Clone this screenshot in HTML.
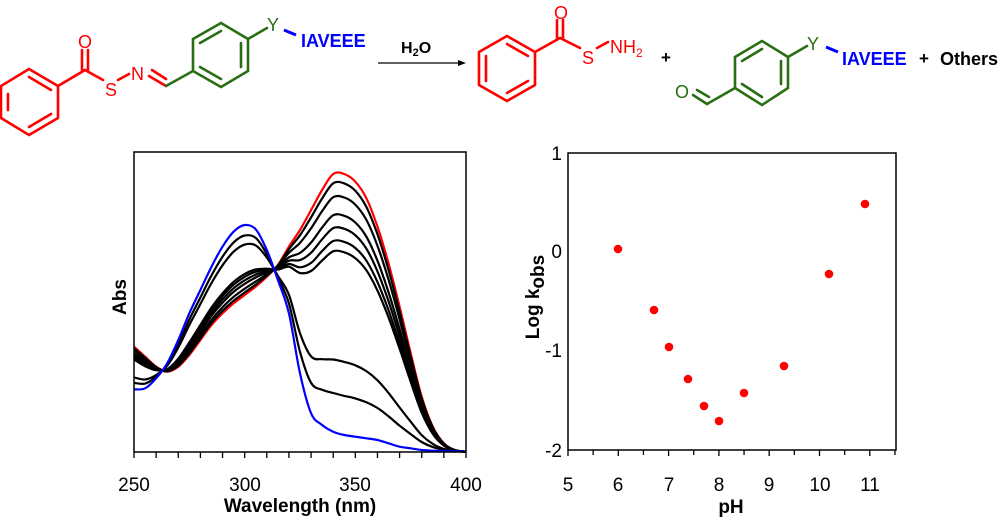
<!DOCTYPE html>
<html><head><meta charset="utf-8"><style>
html,body{margin:0;padding:0;background:#fff;}
svg{display:block;}
text{font-family:"Liberation Sans",sans-serif;}
</style></head><body>
<svg id="s" width="1000" height="518" viewBox="0 0 1000 518" xmlns="http://www.w3.org/2000/svg">
<g stroke="#f00" stroke-width="2.6" fill="none" stroke-linecap="round">
<polygon points="29,69 58,86 58,118 29,135 1,118 1,86"/>
<line x1="29" y1="77" x2="51" y2="90"/><line x1="51" y1="114" x2="29" y2="127"/><line x1="8" y1="94" x2="8" y2="110"/>
<line x1="58" y1="86" x2="85" y2="70"/>
<line x1="82" y1="70" x2="82" y2="50"/><line x1="88" y1="70" x2="88" y2="50"/>
<line x1="85" y1="70" x2="103" y2="80"/>
<line x1="118" y1="80" x2="129" y2="74"/>
<line x1="149" y1="76" x2="166" y2="86"/><line x1="152" y1="70" x2="166" y2="79"/>
</g>
<g fill="#f00" font-size="18"><text x="78" y="48">O</text><text x="105" y="96">S</text><text x="131" y="80">N</text></g>
<g stroke="#2a6e14" stroke-width="2.6" fill="none" stroke-linecap="round">
<line x1="166" y1="86" x2="193" y2="71"/>
<polygon points="193,39 221,23 248,39 248,71 221,87 193,71"/>
<line x1="200" y1="43" x2="221" y2="31"/><line x1="241" y1="43" x2="241" y2="67"/><line x1="200" y1="67" x2="221" y2="79"/>
<line x1="248" y1="39" x2="267" y2="28"/>
</g>
<text x="267" y="31" fill="#2a6e14" font-size="18">Y</text>
<line x1="284" y1="30" x2="296" y2="35" stroke="#00f" stroke-width="3"/>
<text x="301" y="47" fill="#00f" font-size="18" font-weight="bold">IAVEEE</text>
<line x1="378" y1="63" x2="460" y2="63" stroke="#000" stroke-width="1.2"/>
<polygon points="466,63 458,60 458,66" fill="#000"/>
<text x="401" y="53" font-size="16" font-weight="bold">H<tspan font-size="11" dy="3">2</tspan><tspan dy="-3">O</tspan></text>
<g stroke="#f00" stroke-width="2.6" fill="none" stroke-linecap="round">
<polygon points="507,36 535,52 535,85 507,101 479,85 479,52"/>
<line x1="486" y1="56" x2="486" y2="81"/><line x1="507" y1="44" x2="528" y2="56"/><line x1="507" y1="93" x2="528" y2="81"/>
<line x1="535" y1="52" x2="560" y2="38"/>
<line x1="557" y1="38" x2="557" y2="20"/><line x1="563" y1="38" x2="563" y2="20"/>
<line x1="560" y1="38" x2="580" y2="48"/>
<line x1="597" y1="48" x2="608" y2="42"/>
</g>
<g fill="#f00" font-size="18"><text x="554" y="19">O</text><text x="582" y="64">S</text><text x="610" y="53">NH<tspan font-size="12" dy="4">2</tspan></text></g>
<text x="661" y="63" font-size="17" font-weight="bold">+</text>
<g stroke="#2a6e14" stroke-width="2.6" fill="none" stroke-linecap="round">
<polygon points="735,57 762,41 788,57 788,88 762,105 735,88"/>
<line x1="742" y1="61" x2="762" y2="49"/><line x1="781" y1="61" x2="781" y2="84"/><line x1="742" y1="84" x2="762" y2="97"/>
<line x1="735" y1="88" x2="707" y2="104"/>
<line x1="707" y1="104" x2="693" y2="95"/><line x1="709" y1="97" x2="697" y2="90"/>
<line x1="788" y1="57" x2="807" y2="46"/>
</g>
<text x="675" y="98" fill="#2a6e14" font-size="18">O</text>
<text x="807" y="50" fill="#2a6e14" font-size="18">Y</text>
<line x1="826" y1="47" x2="838" y2="52" stroke="#00f" stroke-width="3"/>
<text x="842" y="65" fill="#00f" font-size="18" font-weight="bold">IAVEEE</text>
<text x="919" y="64" font-size="17" font-weight="bold">+</text>
<text x="940" y="65" font-size="18" font-weight="bold">Others</text>

<g id="curves" fill="none" stroke-width="2.2" stroke-linejoin="round"></g>
<rect x="134" y="152" width="332" height="300" fill="none" stroke="#000" stroke-width="1.5"/>
<g id="lt" stroke="#000" stroke-width="1.3"></g>
<g font-size="19" text-anchor="middle"><text x="134" y="491">250</text><text x="245" y="491">300</text><text x="355" y="491">350</text><text x="466" y="491">400</text></g>
<text x="300" y="512" font-size="19" font-weight="bold" text-anchor="middle">Wavelength (nm)</text>
<text transform="translate(126,297) rotate(-90)" font-size="19" font-weight="bold" text-anchor="middle">Abs</text>

<rect x="568" y="153" width="328" height="297" fill="none" stroke="#000" stroke-width="1.5"/>
<g id="rt" stroke="#000" stroke-width="1.3"></g>
<g font-size="19" text-anchor="end"><text x="562" y="160">1</text><text x="562" y="258">0</text><text x="562" y="357">-1</text><text x="562" y="457">-2</text></g>
<g font-size="19" text-anchor="middle"><text x="568" y="491">5</text><text x="618" y="491">6</text><text x="669" y="491">7</text><text x="719" y="491">8</text><text x="769" y="491">9</text><text x="820" y="491">10</text><text x="870" y="491">11</text></g>
<text x="731" y="513" font-size="19" font-weight="bold" text-anchor="middle">pH</text>
<text transform="translate(539,297) rotate(-90)" font-size="19" font-weight="bold" text-anchor="middle">Log k<tspan dy="5">obs</tspan></text>
<g fill="#f00">
<circle cx="618" cy="249" r="4.3"/><circle cx="654" cy="310" r="4.3"/><circle cx="669" cy="347" r="4.3"/><circle cx="688" cy="379" r="4.3"/><circle cx="704" cy="406" r="4.3"/><circle cx="719" cy="421" r="4.3"/><circle cx="744" cy="393" r="4.3"/><circle cx="784" cy="366" r="4.3"/><circle cx="829" cy="274" r="4.3"/><circle cx="865" cy="204" r="4.3"/>
</g>
</svg>
<script>
var NS="http://www.w3.org/2000/svg";
function el(p,n,a){var e=document.createElementNS(NS,n);for(var k in a)e.setAttribute(k,a[k]);document.getElementById(p).appendChild(e);}
for(var w=250;w<=400;w+=10){var x=134+(w-250)*332/150;el("lt","line",{x1:x,y1:452,x2:x,y2:458});}
for(var p=5;p<=11.5;p+=0.5){var x=568+(p-5)*50.3;el("rt","line",{x1:x,y1:450,x2:x,y2:(p%1==0?456:455)});}
var wl=[250,255,260,265,270,275,280,285,290,295,300,305,310,315,320,325,330,335,340,345,350,355,360,365,370,375,380,385,390,395,400];
var red=[620,650,680,695,680,645,600,555,520,490,465,440,410,375,320,270,210,150,102,102,125,175,260,370,500,640,770,860,910,930,935];
var blue=[748,745,715,670,600,520,450,380,320,275,255,268,330,420,520,700,820,855,875,885,890,895,900,910,920,925,930,932,933,934,935];
function path(f){var P=[];for(var i=0;i<wl.length;i++){P.push([134+(wl[i]-250)*332/150,140+((1-f)*red[i]+f*blue[i])/3]);}
var d="M"+P[0][0].toFixed(1)+","+P[0][1].toFixed(1);
for(var i=0;i<P.length-1;i++){var p0=P[Math.max(0,i-1)],p1=P[i],p2=P[i+1],p3=P[Math.min(P.length-1,i+2)];
var c1=[p1[0]+(p2[0]-p0[0])/6,p1[1]+(p2[1]-p0[1])/6],c2=[p2[0]-(p3[0]-p1[0])/6,p2[1]-(p3[1]-p1[1])/6];
d+="C"+c1[0].toFixed(1)+","+c1[1].toFixed(1)+" "+c2[0].toFixed(1)+","+c2[1].toFixed(1)+" "+p2[0].toFixed(1)+","+p2[1].toFixed(1);}
return d;}
var fs=[0.036,0.09,0.16,0.21,0.26,0.30,0.72,0.85];
el("curves","path",{d:path(0),stroke:"#f00"});
fs.forEach(function(f){el("curves","path",{d:path(f),stroke:"#000"});});
el("curves","path",{d:path(1),stroke:"#00f"});
</script>
</body></html>
